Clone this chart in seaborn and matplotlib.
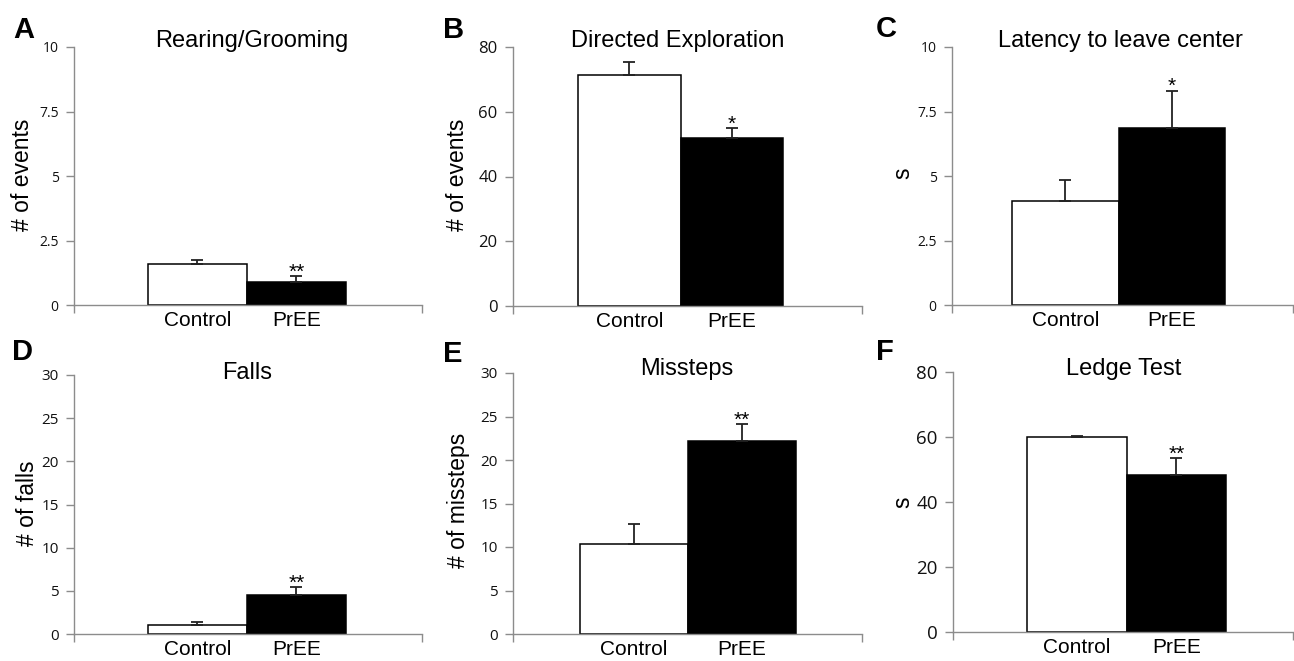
import numpy as np
import matplotlib
matplotlib.use("Agg")
import matplotlib.pyplot as plt
import seaborn as sns

# Values
groups = ['Control', 'PrEE']
titles = ['Rearing/Grooming', 'Directed Exploration', 'Latency to leave center',
          'Falls', 'Missteps', 'Ledge Test']
letters = ['A', 'B', 'C', 'D', 'E', 'F']
ylabels = ['# of events', '# of events', 's', '# of falls', '# of missteps', 's']

means_a = [1.6, 0.9]
sems_a = [0.16, 0.22]
means_b = [71.2, 51.8]
sems_b = [4.3, 3.1]
means_c = [4.04, 6.85]
sems_c = [0.8, 1.46]
means_d = [1.05, 4.5]
sems_d = [0.35, 0.92]
means_e = [10.4, 22.2]
sems_e = [2.25, 1.9]
means_f = [60.0, 48.3]
sems_f = [0.3, 5.1]

stars = ['**', '*', '*', '**', '**', '**']
yticks_a = [0, 2.5, 5, 7.5, 10]
yticks_b = [0, 20, 40, 60, 80]
yticks_d = [0, 5, 10, 15, 20, 25, 30]
ytick_labels_a = ['0', '2.5', '5', '7.5', '10']

all_means = [means_a, means_b, means_c, means_d, means_e, means_f]
all_sems = [sems_a, sems_b, sems_c, sems_d, sems_e, sems_f]
all_yticks = [yticks_a, yticks_b, yticks_a, yticks_d, yticks_d, yticks_b]

sns.set_theme(style='ticks')
plt.rcParams['font.family'] = ['Liberation Sans', 'DejaVu Sans']
plt.rcParams['text.color'] = 'black'
plt.rcParams['xtick.labelcolor'] = 'black'

W, H = 1294, 661
fig = plt.figure(figsize=(W / 100, H / 100), dpi=100)

# panel boxes in pixels: left, right, top, bottom
boxes = [(74, 422, 47, 305), (513, 862, 47, 306), (952, 1293, 47, 305),
         (74, 422, 375, 634), (513, 862, 373, 634), (953, 1293, 372, 632)]
xlims = [(-1.247, 2.268), (-1.134, 2.27), (-1.063, 2.138),
         (-1.247, 2.268), (-1.12, 2.11), (-1.244, 2.173)]
tick_sizes = [10, 12, 10, 11, 11, 13.5]
title_pos = [(252, 47), (678, 47), (1120, 47), (247, 379), (687, 375), (1124, 375)]
letter_pos = [(13, 38), (443, 38), (876, 37), (12, 360), (443, 362), (876, 360)]
ylabel_pos = [(23, 175), (458, 175), (903, 173), (28, 503), (458, 500), (903, 502)]

grey = '#8c8c8c'

for i in range(6):
    l, r, t, b = boxes[i]
    ax = fig.add_axes([l / W, 1 - b / H, (r - l) / W, (b - t) / H])
    means = all_means[i]
    sems = all_sems[i]

    sns.barplot(x=groups, y=means, hue=groups, palette=['white', 'black'],
                width=1.0, edgecolor='black', linewidth=1.1, legend=False, ax=ax)
    ax.errorbar([0, 1], means, yerr=[[0, 0], sems], fmt='none', ecolor='#222222',
                elinewidth=1.3, capsize=4.3, capthick=1.3, zorder=5)

    top = means[1] + sems[1]
    ax.annotate(stars[i], xy=(1, top), xytext=(0, -1), textcoords='offset points',
                ha='center', va='baseline', fontsize=15)

    yt = all_yticks[i]
    ax.set_ylim(0, yt[-1])
    ax.set_yticks(yt)
    if yt == yticks_a:
        ax.set_yticklabels(ytick_labels_a)
    ax.set_xlim(*xlims[i])
    ax.set_xticks([xlims[i][0], xlims[i][1]], minor=True)
    ax.set_xlabel('')
    ax.set_ylabel('')

    sns.despine(ax=ax)
    for s in ['left', 'bottom']:
        ax.spines[s].set_color(grey)
        ax.spines[s].set_linewidth(1.0)
    ax.tick_params(axis='y', length=6, width=1, color=grey, pad=5,
                   labelsize=tick_sizes[i], labelcolor='#111111')
    ax.tick_params(axis='x', which='major', length=0, pad=4, labelsize=15)
    ax.tick_params(axis='x', which='minor', length=6, width=1, color=grey)
    for lab in ax.get_yticklabels():
        lab.set_fontfamily(['Open Sans', 'DejaVu Sans'])

    tx, ty = title_pos[i]
    fig.text(tx / W, 1 - ty / H, titles[i], ha='center', va='baseline', fontsize=17)
    lx, ly = letter_pos[i]
    fig.text(lx / W, 1 - ly / H, letters[i], ha='left', va='baseline',
             fontsize=21, fontweight='bold')
    yx, yy = ylabel_pos[i]
    fig.text(yx / W, 1 - yy / H, ylabels[i], ha='center', va='center',
             rotation=90, fontsize=16.5)

fig.savefig('out.png', dpi=100, facecolor='white')
